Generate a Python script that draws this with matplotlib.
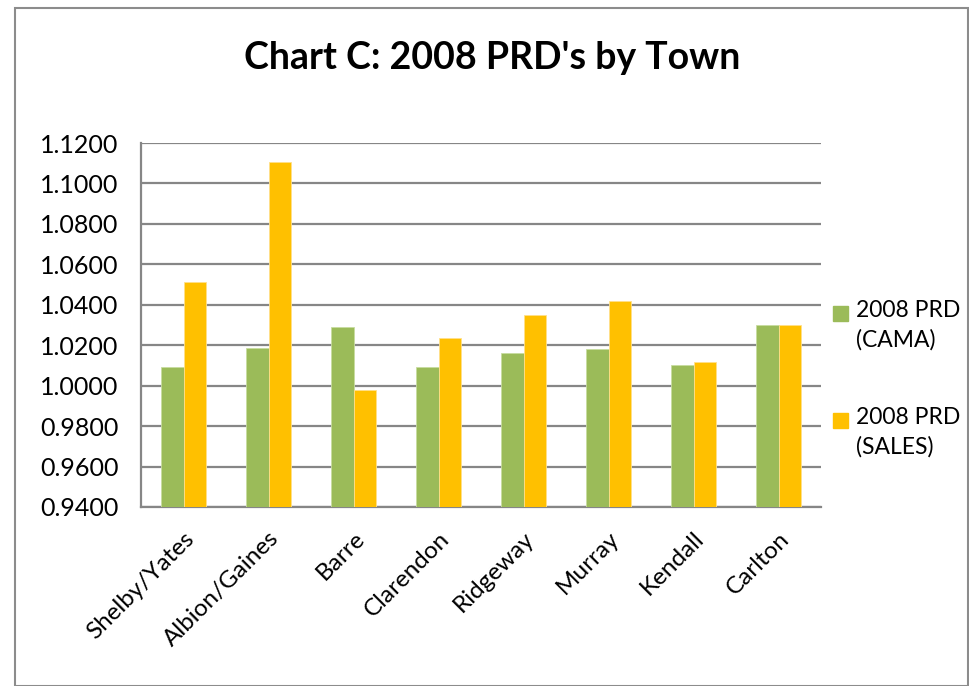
import numpy as np
import matplotlib.pyplot as plt
from matplotlib.patches import Rectangle

plt.rcParams['font.family'] = ['Lato', 'DejaVu Sans']

towns = ['Shelby/Yates', 'Albion/Gaines', 'Barre', 'Clarendon',
         'Ridgeway', 'Murray', 'Kendall', 'Carlton']
prd_cama = [1.0094, 1.0188, 1.0288, 1.0094, 1.0160, 1.0179, 1.0101, 1.0301]
prd_sales = [1.0512, 1.1104, 0.9980, 1.0236, 1.0347, 1.0417, 1.0119, 1.0298]
y_ticks = [0.94, 0.96, 0.98, 1.00, 1.02, 1.04, 1.06, 1.08, 1.10, 1.12]
series_names = ['2008 PRD\n(CAMA)', '2008 PRD\n(SALES)']

green = '#9bbb59'
gold = '#ffc000'
grid_col = '#868686'

fig = plt.figure(figsize=(9.70, 6.86), dpi=100)
ax = fig.add_axes([0.1454, 0.261, 0.701, 0.5305])

# outer chart border
fig.patches.append(Rectangle((0.015, 0.0), 0.983, 0.988, transform=fig.transFigure,
                             fill=False, edgecolor='#8c8c8c', linewidth=1.5))

x = np.arange(len(towns))
w = 0.27
ax.bar(x - w / 2, prd_cama, w, color=green, edgecolor='#c8dca0', linewidth=0.6, zorder=3)
ax.bar(x + w / 2, prd_sales, w, color=gold, edgecolor='#ffe08a', linewidth=0.6, zorder=3)

ax.set_xlim(-0.5, len(towns) - 0.5)
ax.set_ylim(0.94, 1.12)
ax.set_yticks(y_ticks)
ax.set_yticklabels([f'{v:.4f}' for v in y_ticks], fontsize=18)
ax.yaxis.grid(True, color=grid_col, linewidth=1.6, zorder=0)
ax.tick_params(axis='y', length=0, pad=16)

ax.set_xticks(x)
ax.set_xticklabels(towns, rotation=45, ha='right', rotation_mode='anchor', fontsize=17.5)
ax.tick_params(axis='x', length=0, pad=15)

for s in ['top', 'right']:
    ax.spines[s].set_visible(False)
for s in ['left', 'bottom']:
    ax.spines[s].set_color(grid_col)
    ax.spines[s].set_linewidth(1.6)

fig.text(0.5075, 0.915, "Chart C: 2008 PRD's by Town", ha='center', va='center',
         fontsize=27, fontweight='bold')

# legend: square beside the first line of each two-line entry
W, H = 970, 686
for name, col, yc in zip(series_names, [green, gold], [313, 420]):
    fig.patches.append(Rectangle((833 / W, 1 - (yc + 7.5) / H), 15 / W, 15 / H,
                                 transform=fig.transFigure, color=col))
    fig.text(856 / W, 1 - (yc - 13) / H, name, ha='left', va='top',
             fontsize=16.5, linespacing=1.45)

fig.savefig('out.png', dpi=100)
